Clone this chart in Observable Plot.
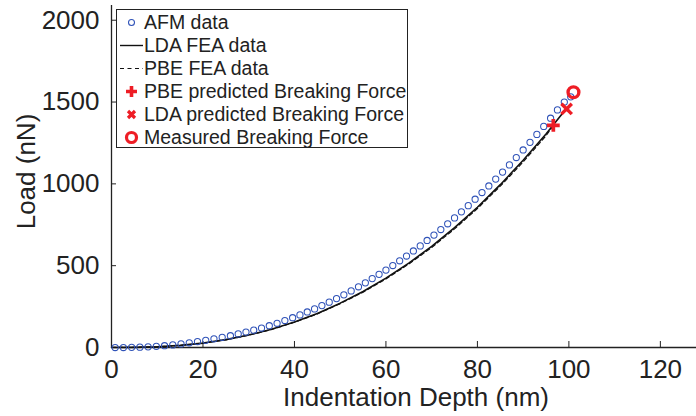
<!DOCTYPE html>
<html>
<head>
<meta charset="utf-8">
<script src="https://cdn.jsdelivr.net/npm/d3@7"></script>
<script src="https://cdn.jsdelivr.net/npm/@observablehq/plot@0.6"></script>
<style>
  html, body { margin: 0; padding: 0; background: #fff; }
  #wrap { position: relative; width: 696px; height: 416px; font-family: "Liberation Sans", Arial, Helvetica, sans-serif; color: #222; }
  #legend { position: absolute; left: 116px; top: 9px; width: 290px; height: 137px; border: 1.3px solid #222; background: #fff; }
  .row { position: absolute; left: 0; height: 23px; width: 290px; }
  .row svg { position: absolute; left: 0; top: 0; }
  .row span { position: absolute; left: 27px; top: 0; line-height: 23px; font-size: 19.5px; white-space: nowrap; color: #222; }
</style>
</head>
<body>
<div id="wrap"></div>
<script>
// AFM measured data (depth nm, load nN)
const afmDepth = [0.8, 2.6, 4.4, 6.2, 8.0, 9.8, 11.6, 13.4, 15.2, 17.0, 18.8, 20.6, 22.4, 24.2, 26.0, 27.7, 29.4, 31.1, 32.8, 34.5, 36.2, 37.9, 39.6, 41.2, 42.8, 44.4, 46.0, 47.6, 49.2, 50.8, 52.4, 54.0, 55.5, 57.0, 58.5, 60.0, 61.5, 63.0, 64.5, 66.0, 67.5, 69.0, 70.5, 72.0, 73.5, 75.0, 76.5, 78.0, 79.5, 81.0, 82.5, 84.0, 85.5, 87.0, 88.5, 90.0, 91.5, 93.0, 94.5, 96.0, 97.5, 99.0, 100.4];
const afmLoad  = [0, 0, 1, 2, 4, 7, 11, 16, 22, 29, 36, 44, 53, 62, 72, 83, 94, 106, 119, 133, 148, 165, 182, 199, 217, 236, 256, 277, 299, 322, 346, 371, 395, 421, 447, 473, 501, 530, 559, 590, 621, 654, 687, 721, 756, 792, 829, 867, 906, 947, 987, 1029, 1072, 1116, 1161, 1207, 1254, 1302, 1351, 1401, 1452, 1500, 1532];

// LDA FEA curve
const ldaDepth = [0, 5, 10, 15, 20, 25, 30, 35, 40, 45, 50, 55, 60, 65, 70, 75, 80, 85, 90, 95, 99.5];
const ldaLoad  = [0, 1, 5, 13, 27, 48, 76, 112, 156, 208, 271, 342, 424, 516, 618, 732, 857, 995, 1144, 1305, 1462];

// PBE FEA curve
const pbeDepth = [0, 5, 10, 15, 20, 25, 30, 35, 40, 45, 50, 55, 60, 65, 70, 75, 80, 85, 90, 95, 96.6];
const pbeLoad  = [0, 1, 5, 13, 26, 47, 75, 110, 154, 205, 268, 338, 419, 510, 611, 725, 849, 986, 1134, 1294, 1356];

// Breaking forces
const pbePredicted = {depth: 96.6, load: 1358};
const ldaPredicted = {depth: 99.5, load: 1458};
const measured     = {depth: 101.0, load: 1560};

const xTicks = [0, 20, 40, 60, 80, 100, 120];
const yTicks = [0, 500, 1000, 1500, 2000];

const legendLabels = ["AFM data", "LDA FEA data", "PBE FEA data", "PBE predicted Breaking Force", "LDA predicted Breaking Force", "Measured Breaking Force"];
const xLabel = "Indentation Depth (nm)";
const yLabel = "Load (nN)";

const blue = "#2f52b8";
const red = "#ee1d25";
const ink = "#222";

const afm = afmDepth.map((d, i) => ({depth: d, load: afmLoad[i]}));
const lda = ldaDepth.map((d, i) => ({depth: d, load: ldaLoad[i]}));
const pbe = pbeDepth.map((d, i) => ({depth: d, load: pbeLoad[i]}));

const fmt = d => String(d);

const chart = Plot.plot({
  width: 696,
  height: 416,
  marginLeft: 111,
  marginRight: 0,
  marginTop: 5,
  marginBottom: 69,
  style: {fontFamily: "'Liberation Sans', Arial, Helvetica, sans-serif", fontSize: "26px", color: ink, background: "#fff", overflow: "visible"},
  x: {domain: [0, 127.9]},
  y: {domain: [0, 2090]},
  marks: [
    Plot.axisX({ticks: xTicks, tickSize: -6, fill: "none", label: null, stroke: ink}),
    Plot.axisX({ticks: xTicks, tickSize: 0, tickPadding: 12, tickFormat: fmt, fontSize: 26, label: null, fill: ink}),
    Plot.axisY({ticks: yTicks, tickSize: -5, fill: "none", label: null, stroke: ink}),
    Plot.axisY({ticks: yTicks, tickSize: 0, tickPadding: 12, tickFormat: fmt, fontSize: 26, label: null, fill: ink}),
    Plot.ruleX([0], {stroke: ink, strokeWidth: 1.3}),
    Plot.ruleY([0], {stroke: ink, strokeWidth: 1.3}),
    Plot.text([xLabel], {text: d => d, frameAnchor: "bottom", lineAnchor: "middle", textAnchor: "middle", dy: 50, dx: 12, fontSize: 26, fill: ink}),
    Plot.text([yLabel], {text: d => d, frameAnchor: "left", lineAnchor: "middle", textAnchor: "middle", rotate: -90, dx: -85, dy: -5, fontSize: 26, fill: ink}),
    Plot.line(pbe, {x: "depth", y: "load", stroke: "#111", strokeWidth: 1.2, strokeDasharray: "4,3"}),
    Plot.line(lda, {x: "depth", y: "load", stroke: "#111", strokeWidth: 1.6}),
    Plot.dot(afm, {x: "depth", y: "load", r: 3.1, stroke: blue, strokeWidth: 1.05, fill: "none"}),
    Plot.dot([pbePredicted], {x: "depth", y: "load", symbol: "plus", r: 4.2, stroke: red, strokeWidth: 3.7}),
    Plot.dot([ldaPredicted], {x: "depth", y: "load", symbol: "times", r: 4.8, stroke: red, strokeWidth: 3.4}),
    Plot.dot([measured], {x: "depth", y: "load", r: 5.4, stroke: red, strokeWidth: 3.4, fill: "none"})
  ]
});

const wrap = document.getElementById("wrap");
wrap.appendChild(chart);

// Legend
const markers = [
  `<circle cx="14.5" cy="11.5" r="3" fill="none" stroke="${blue}" stroke-width="1.05"/>`,
  `<line x1="3" y1="11.5" x2="26" y2="11.5" stroke="#111" stroke-width="1.4"/>`,
  `<line x1="3" y1="11.5" x2="26" y2="11.5" stroke="#111" stroke-width="1.2" stroke-dasharray="4,3.5"/>`,
  `<path d="M9,11.5H20M14.5,6V17" stroke="${red}" stroke-width="3.6" fill="none"/>`,
  `<path d="M11,8L18,15M18,8L11,15" stroke="${red}" stroke-width="3.2" fill="none"/>`,
  `<circle cx="14.5" cy="11.5" r="5" fill="none" stroke="${red}" stroke-width="3.2"/>`
];
const legend = document.createElement("div");
legend.id = "legend";
legendLabels.forEach((lab, i) => {
  const row = document.createElement("div");
  row.className = "row";
  row.style.top = (1 + i * 22.9) + "px";
  row.innerHTML = `<svg width="28" height="23">${markers[i]}</svg><span>${lab}</span>`;
  legend.appendChild(row);
});
wrap.appendChild(legend);
</script>
</body>
</html>
